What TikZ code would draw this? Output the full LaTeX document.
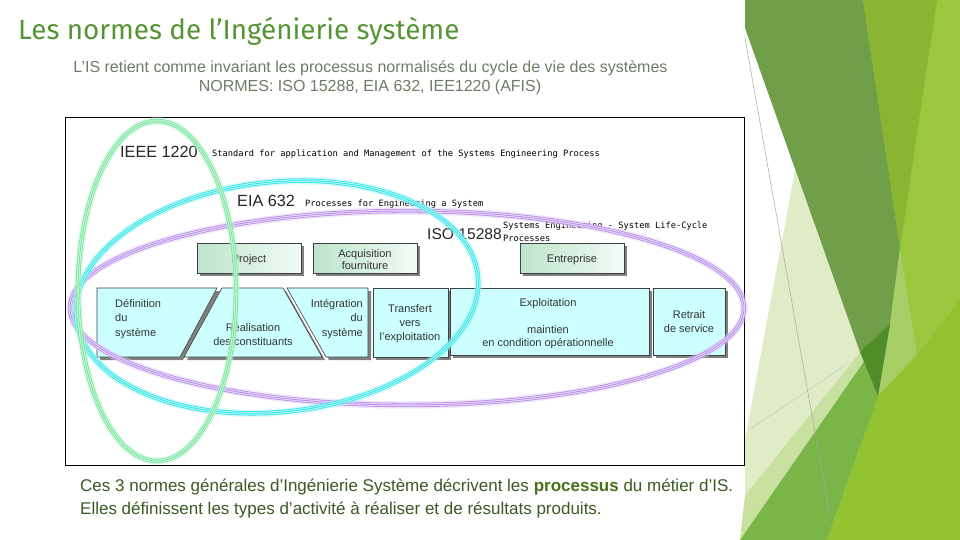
\documentclass[tikz,border=0pt]{standalone}
\usepackage{fontspec}
\setmainfont{Liberation Sans}
\newfontfamily\titlefont{Fira Sans}
\newfontfamily\smallmono{DejaVu Sans Mono}
\definecolor{titlegreen}{RGB}{86,148,52}
\definecolor{subgray}{RGB}{112,124,104}
\definecolor{botgreen}{RGB}{60,90,34}
\definecolor{boldgreen}{RGB}{72,112,26}
\definecolor{cyanbox}{RGB}{204,255,255}
\definecolor{mintA}{RGB}{188,228,204}
\definecolor{mintB}{RGB}{242,251,246}
\definecolor{ringgreen}{RGB}{110,228,150}
\definecolor{ringcyan}{RGB}{40,228,232}
\definecolor{ringpurple}{RGB}{182,138,235}
\definecolor{decdark}{RGB}{112,158,73}
\definecolor{decmed}{RGB}{137,182,50}
\definecolor{declight}{RGB}{155,199,62}
\definecolor{decbright}{RGB}{145,194,47}
\definecolor{decmid}{RGB}{122,181,72}
\definecolor{decdeep}{RGB}{80,140,42}
\definecolor{decpale}{RGB}{224,236,200}
\definecolor{decpale2}{RGB}{200,224,160}
\definecolor{declight2}{RGB}{166,206,102}
\tikzset{
  boxline/.style={draw=black!75, line width=0.6pt},
  cyanshape/.style={boxline, fill=cyanbox},
  shadowfill/.style={fill=black!50},
  mintbox/.style={boxline, shading=axis, shading angle=45, left color=mintA, right color=mintB},
  boxtext/.style={font=\fontsize{11}{13.5}\selectfont, text=black!80, inner sep=0pt},
  stdname/.style={font=\fontsize{16.2}{18}\selectfont, text=black!85, inner sep=0pt, anchor=base west},
  stddesc/.style={font=\smallmono\fontsize{8.7}{14}\selectfont, text=black, inner sep=0pt, anchor=base west},
  ring/.style={draw=#1, line width=4.4pt,
    preaction={draw=#1!40, line width=7.5pt, opacity=.45},
    postaction={draw=#1!30!white, line width=2.8pt},
    postaction={draw=#1, line width=0.8pt}},
  bottext/.style={anchor=base west, font=\fontsize{17}{20}\selectfont, text=botgreen, inner sep=0pt},
}
\begin{document}
\begin{tikzpicture}[x=1pt,y=-1pt]
\useasboundingbox (0,0) rectangle (960,540);
\fill[white] (0,0) rectangle (960,540);

% ---- right decoration ----
\fill[declight] (862,0) rectangle (960,540);
\fill[decpale2] (745,495) -- (860,352) -- (890,324) -- (740,540) -- cycle;
\fill[decpale] (795,170) -- (860,352) -- (745,495) -- (745,440) -- cycle;
\fill[decdark] (745,0) -- (863,0) -- (900,248) -- (890,324) -- (860,352) -- (745,28) -- cycle;
\fill[decmed] (863,0) -- (937,0) -- (900,248) -- cycle;
\fill[declight2] (900,248) -- (917,355) -- (878,396) -- (890,324) -- cycle;
\fill[decbright] (878,396) -- (917,355) -- (960,300) -- (960,540) -- (827,540) -- cycle;
\fill[decmid] (740,540) -- (890,324) -- (878,396) -- (827,540) -- cycle;
\fill[decdeep] (860,352) -- (890,324) -- (878,396) -- cycle;
\draw[black!35, line width=0.5pt] (745,38) -- (830,517);
\draw[black!25, line width=0.4pt] (750,429) -- (850,362);

% ---- title ----
\node[anchor=base west, font=\titlefont\fontsize{27.8}{32}\selectfont, text=titlegreen, inner sep=0pt] (title) at (18,40) {Les normes de l’Ingénierie système};
\node[anchor=base, font=\fontsize{16}{18}\selectfont, text=subgray, inner sep=0pt] (sub1) at (370.5,72.5) {L'IS retient comme invariant les processus normalisés du cycle de vie des systèmes};
\node[anchor=base, font=\fontsize{16}{18}\selectfont, text=subgray, inner sep=0pt] (sub2) at (370,91.5) {NORMES: ISO 15288, EIA 632, IEE1220 (AFIS)};

% ---- frame ----
\draw[black, line width=0.8pt] (65,117) rectangle (744,465);

% ---- standards labels ----
\node[stdname] (ieee) at (120,158) {IEEE 1220};
\node[stddesc] (ieeed) at (212,157) {Standard for application and Management of the Systems Engineering Process};
\node[stdname] (eia) at (237,206.5) {EIA 632};
\node[stddesc] (eiad) at (305,206) {Processes for Engineering a System};
\node[stdname, font=\fontsize{15.6}{18}\selectfont] (iso) at (427,239) {ISO 15288};
\node[stddesc] (isod1) at (503,228) {Systems Engineering - System Life-Cycle};
\node[stddesc] (isod2) at (503,241.5) {Processes};

% ---- upper boxes ----
\fill[shadowfill] (200,246) rectangle (304,276);
\path[mintbox] (197,243) rectangle (301,273);
\fill[shadowfill] (316,246) rectangle (420,276);
\path[mintbox] (313,243) rectangle (417,273);
\fill[shadowfill] (523,246) rectangle (627,276);
\path[mintbox] (520,243) rectangle (624,273);
\node[boxtext, anchor=base] (project) at (249,262) {Project};
\node[boxtext, anchor=base] (acq1) at (365,257) {Acquisition};
\node[boxtext, anchor=base] (acq2) at (365,269) {fourniture};
\node[boxtext, anchor=base] (entr) at (572,262) {Entreprise};

% ---- lower cyan boxes ----
\fill[shadowfill] (100,291) -- (220,291) -- (183,360) -- (100,360) -- cycle;
\path[cyanshape] (97,288) -- (217,288) -- (180,357) -- (97,357) -- cycle;
\fill[shadowfill] (225,291) -- (286,291) -- (325,360) -- (187,360) -- cycle;
\path[cyanshape] (222,288) -- (283,288) -- (322,357) -- (184,357) -- cycle;
\fill[shadowfill] (290,291) -- (371,291) -- (371,360) -- (329,360) -- cycle;
\path[cyanshape] (287,288) -- (368,288) -- (368,357) -- (326,357) -- cycle;
\fill[shadowfill] (376,291) rectangle (451,360);
\path[cyanshape] (373,288) rectangle (448,357);
\fill[shadowfill] (453,291) rectangle (652,358);
\path[cyanshape] (450,288) rectangle (649,355);
\fill[shadowfill] (656,291) rectangle (728,358);
\path[cyanshape] (653,288) rectangle (725,355);

\node[boxtext, anchor=base west] (def1) at (115,307) {Définition};
\node[boxtext, anchor=base west] (def2) at (115,321.5) {du};
\node[boxtext, anchor=base west] (def3) at (115,336) {système};
\node[boxtext, anchor=base] (rea1) at (253,331) {Réalisation};
\node[boxtext, anchor=base] (rea2) at (253,345) {des constituants};
\node[boxtext, anchor=base east] (int1) at (363,307) {Intégration};
\node[boxtext, anchor=base east] (int2) at (363,321.5) {du};
\node[boxtext, anchor=base east] (int3) at (363,336) {système};
\node[boxtext, anchor=base] (tra1) at (410,312) {Transfert};
\node[boxtext, anchor=base] (tra2) at (410,326) {vers};
\node[boxtext, anchor=base] (tra3) at (410,340) {l'exploitation};
\node[boxtext, anchor=base] (exp1) at (548,306) {Exploitation};
\node[boxtext, anchor=base] (exp2) at (548,333) {maintien};
\node[boxtext, anchor=base] (exp3) at (548,346) {en condition opérationnelle};
\node[boxtext, anchor=base] (ret1) at (689,318) {Retrait};
\node[boxtext, anchor=base] (ret2) at (689,332) {de service};

% ---- rings ----
\draw[ring=ringpurple] (407,308) ellipse [x radius=337, y radius=97];
\draw[ring=ringcyan, rotate around={6:(277,297)}] (277,297) ellipse [x radius=202, y radius=115];
\draw[ring=ringgreen] (157,291) ellipse [x radius=79, y radius=170];

% ---- bottom text ----
\node[bottext] (bot1) at (80,491) {Ces 3 normes générales d’Ingénierie Système décrivent les \textbf{\color{boldgreen}processus} du métier d’IS.};
\node[bottext] (bot2) at (80,514) {Elles définissent les types d’activité à réaliser et de résultats produits.};
\end{tikzpicture}
\end{document}
